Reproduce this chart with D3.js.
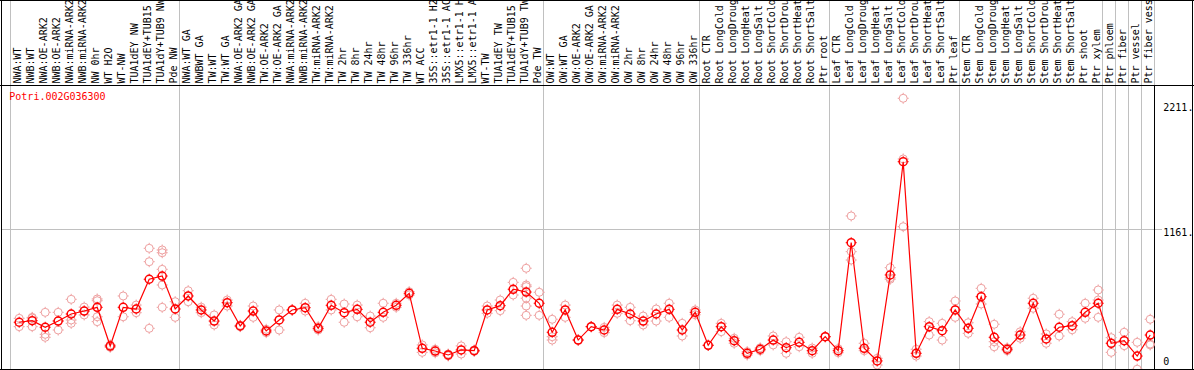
<!DOCTYPE html>
<html><head><meta charset="utf-8">
<script src="https://cdn.jsdelivr.net/npm/d3@7"></script>
<style>
html,body{margin:0;padding:0;background:#fff;}
svg{display:block;}
text{font-family:"DejaVu Sans Mono",monospace;font-size:10px;}
</style></head>
<body>
<script>
const title = "Potri.002G036300";
const categories = [
 "NWA:WT","NWB:WT","NWA:OE-ARK2","NWB:OE-ARK2","NWA:miRNA-ARK2","NWB:miRNA-ARK2","NW 0hr","WT H2O","WT-NW","TUA1dEY NW","TUA1dEY+TUB15","TUA1dY+TUB9 NW","Pde NW",
 "NWA:WT GA","NWBWT GA","TW:WT","TW:WT GA","NWA:OE-ARK2 GA","NWB:OE-ARK2 GA","TW:OE-ARK2","TW:OE-ARK2 GA","NWA:miRNA-ARK2","NWB:miRNA-ARK2","TW:miRNA-ARK2","TW:miRNA-ARK2","TW 2hr","TW 8hr","TW 24hr","TW 48hr","TW 96hr","TW 336hr","WT ACC","35S::etr1-1 H2","35S::etr1-1 AC","LMX5::etr1-1 H","LMX5::etr1-1 A","WT-TW","TUA1dEY TW","TUA1dEY+TUB15","TUA1dY+TUB9 TW","Pde TW",
 "OW:WT","OW:WT GA","OW:OE-ARK2","OW:OE-ARK2 GA","OW:miRNA-ARK2","OW:miRNA-ARK2","OW 2hr","OW 8hr","OW 24hr","OW 48hr","OW 96hr","OW 336hr",
 "Root CTR","Root LongCold","Root LongDroug","Root LongHeat","Root LongSalt","Root ShortCold","Root ShortDrou","Root ShortHeat","Root ShortSalt","Ptr root",
 "Leaf CTR","Leaf LongCold","Leaf LongDroug","Leaf LongHeat","Leaf LongSalt","Leaf ShortCold","Leaf ShortDrou","Leaf ShortHeat","Leaf ShortSalt","Ptr leaf",
 "Stem CTR","Stem LongCold","Stem LongDroug","Stem LongHeat","Stem LongSalt","Stem ShortCold","Stem ShortDrou","Stem ShortHeat","Stem ShortSalt","Ptr shoot","Ptr xylem",
 "Ptr phloem","Ptr fiber","Ptr vessel","Ptr fiber vess"
];
// group start indices (vertical separators)
const groupBreaks = [0,13,41,53,63,73,84,85,86,87,88];
const means = [
 378,391,336,388,447,472,503,179,503,489,738,765,489,
 598,481,388,542,347,472,305,397,481,500,327,520,458,486,378,461,520,620,160,137,104,146,140,481,517,654,631,537,
 294,481,229,341,313,486,447,388,447,486,313,461,
 185,341,224,118,152,229,165,210,140,257,
 140,1044,160,54,774,1722,118,341,307,481,
 327,592,252,152,271,537,238,336,349,461,537,
 202,224,95,271
];
const replicates = [
 [411,341],[419,341,413],[461,277,252],[461,313,390],[570,397,369],[472,439,505],[573,558,424,383],[188,168],[598,424],[522,458],[997,885,327],[983,960,821,690,503],[550,419],
 [642,550],[458,504],[439,355],[564,514],[341,353],[514,419],[291,319],[481,313],[481,481],[537,472],[313,341],[570,481],[531,378],[522,424],[430,332],[537,419],[537,503],[634,606],[188,126],[152,122],[112,96],[112,180],[146,134],[514,453],[564,475],[712,606],[830,690,676,579,514,436],[629,436],
 [403,257,229],[522,419],[229,229],[341,341],[291,335],[522,453],[503,391],[430,355],[489,388],[537,419],[369,263],[481,441],
 [185,185],[369,299],[244,202],[104,132],[140,164],[263,188],[215,118],[252,173],[118,162],[257,257],
 [123,157],[1268,969,899],[202,140],[76,20],[835,738,750],[2253,1745,1178],[152,95],[383,271],[369,229],[556,419],
 [374,285],[662,531],[361,215,173],[140,164],[244,298],[579,495],[280,202],[445,263],[383,315],[537,411],[648,564,419],
 [249,126],[294,182],[210,-15],[403,196,188]
];
const tickValues = [0,1161,2211];
const tickLabels = ["0","1161.","2211."];
const gridValues = [1161];

const W = 1194, H = 370;
const headerBottom = 85.5, plotBottom = 369.5;
const colW = 13, x0 = 10.5;

const svg = d3.select("body").append("svg").attr("width", W).attr("height", H);

const xBand = d3.scaleBand().domain(d3.range(categories.length))
  .range([x0, x0 + colW * categories.length]).padding(0);
const cx = i => xBand(i) + 8.7;
const y = d3.scaleLinear().domain([0, 2211]).range([367.4, 103.3]);

// vertical separators
svg.append("g").selectAll("line").data(groupBreaks).join("line")
  .attr("x1", d => xBand(d) === undefined ? x0 + colW*d : xBand(d))
  .attr("x2", d => xBand(d) === undefined ? x0 + colW*d : xBand(d))
  .attr("y1", 0).attr("y2", H)
  .attr("stroke", "#c0c0c0").attr("stroke-width", 1);

// horizontal grid
svg.append("g").selectAll("line").data(gridValues).join("line")
  .attr("x1", 1).attr("x2", 1162)
  .attr("y1", d => Math.round(y(d)) + 0.5).attr("y2", d => Math.round(y(d)) + 0.5)
  .attr("stroke", "#c0c0c0");

// right plot border line (black in plot area)
svg.append("line").attr("x1", x0 + colW*88).attr("x2", x0 + colW*88)
  .attr("y1", headerBottom).attr("y2", plotBottom).attr("stroke", "#000");

// frame
svg.append("line").attr("x1",0).attr("x2",W).attr("y1",0.5).attr("y2",0.5).attr("stroke","#000");
svg.append("line").attr("x1",0).attr("x2",W).attr("y1",headerBottom).attr("y2",headerBottom).attr("stroke","#000");
svg.append("line").attr("x1",0).attr("x2",W).attr("y1",plotBottom).attr("y2",plotBottom).attr("stroke","#000");
svg.append("line").attr("x1",1.5).attr("x2",1.5).attr("y1",0).attr("y2",H).attr("stroke","#000");
svg.append("line").attr("x1",1192.5).attr("x2",1192.5).attr("y1",0).attr("y2",H).attr("stroke","#000");

// header labels (rotated)
const hdr = svg.append("g").attr("clip-path", "url(#hclip)");
svg.append("clipPath").attr("id","hclip").append("rect").attr("x",0).attr("y",1).attr("width",W).attr("height",84);
hdr.selectAll("text").data(categories).join("text")
  .attr("transform", (d,i) => `translate(${xBand(i)+10.8},83.5) rotate(-90)`)
  .attr("fill", "#000")
  .text(d => d);

// title
svg.append("text").attr("x", 9.3).attr("y", 100).attr("fill", "#ff0000").text(title);

// right axis labels
svg.append("g").selectAll("text").data(tickValues).join("text")
  .attr("x", 1163.3)
  .attr("y", (d,i) => Math.min(y(d) + 7.6, 365))
  .attr("fill", "#000")
  .text((d,i) => tickLabels[i]);

// plot clip
svg.append("clipPath").attr("id","pclip").append("rect")
  .attr("x", 2).attr("y", 86).attr("width", 1153).attr("height", 283);
const plot = svg.append("g").attr("clip-path","url(#pclip)");

function marker(g, color, sw) {
  g.append("circle").attr("r", 4).attr("fill","none").attr("stroke", color).attr("stroke-width", sw);
  g.append("path").attr("d","M0,-5.5V-4M0,4V5.5M-5.5,0H-4M4,0H5.5")
    .attr("stroke", color).attr("stroke-width", 1).attr("fill","none");
}

// replicates
const repData = [];
replicates.forEach((arr,i) => arr.forEach(v => repData.push({i, v})));
plot.append("g").selectAll("g").data(repData).join("g")
  .attr("transform", d => `translate(${cx(d.i)},${y(d.v)})`)
  .each(function(){ marker(d3.select(this), "#eea0a0", 1); });

// mean line
const line = d3.line().x((d,i) => cx(i)).y(d => y(d));
plot.append("path").datum(means).attr("d", line)
  .attr("fill","none").attr("stroke","#ff0000").attr("stroke-width",1.2);

// mean markers
plot.append("g").selectAll("g").data(means).join("g")
  .attr("transform", (d,i) => `translate(${cx(i)},${y(d)})`)
  .each(function(){ marker(d3.select(this), "#ff0000", 1.5); });
</script>
</body></html>
